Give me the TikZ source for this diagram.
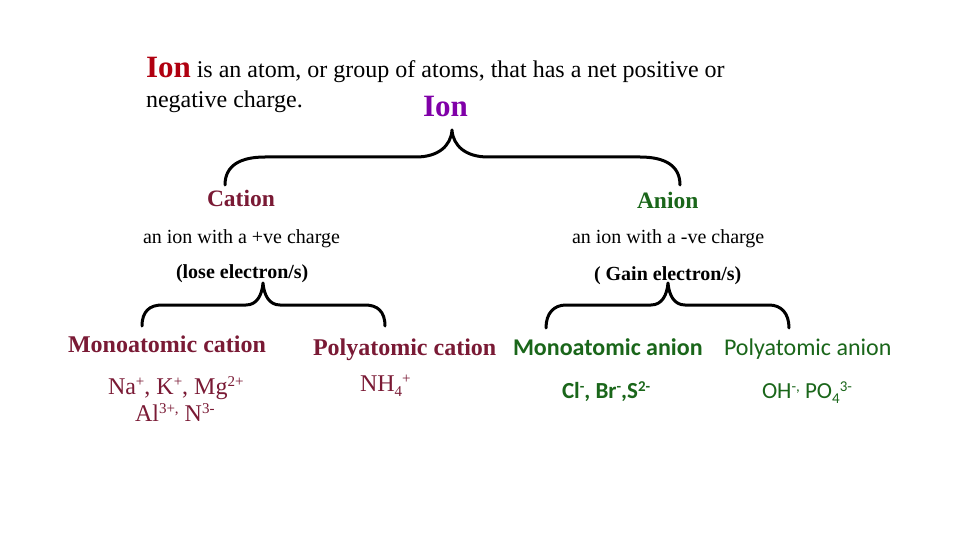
\documentclass[tikz,border=0pt]{standalone}
\usepackage{fontspec}
\setmainfont{Liberation Serif}
\newfontfamily\calfont{Carlito}
\definecolor{ionred}{RGB}{176,0,16}
\definecolor{ionpurple}{RGB}{128,0,168}
\definecolor{catred}{RGB}{122,26,53}
\definecolor{angreen}{RGB}{26,102,26}
\newcommand\myup[1]{\raisebox{0.3em}{\fontsize{15}{15}\selectfont #1}}
\newcommand\mydown[1]{\raisebox{-0.22em}{\fontsize{15}{15}\selectfont #1}}
\begin{document}
\begin{tikzpicture}[x=1pt,y=-1pt,
  txt/.style={anchor=base west,inner sep=0pt,outer sep=0pt},
  deftxt/.style={txt,font=\fontsize{24}{28}\selectfont},
  headcat/.style={txt,text=catred,font=\fontsize{23.5}{28}\selectfont\bfseries},
  headan/.style={txt,text=angreen,font=\fontsize{23.5}{28}\selectfont\bfseries},
  desc/.style={txt,font=\fontsize{20}{24}\selectfont},
  descb/.style={txt,font=\fontsize{20}{24}\selectfont\bfseries},
  subcat/.style={txt,text=catred,font=\fontsize{24}{28}\selectfont\bfseries},
  excat/.style={txt,text=catred,font=\fontsize{24}{28}\selectfont},
  suban/.style={txt,text=angreen,font=\fontsize{24}{28}\selectfont\calfont},
  brace/.style={line width=3pt,line cap=round,line join=round}]
\useasboundingbox (0,0) rectangle (960,540);
\fill[white] (0,0) rectangle (960,540);

% definition
\node[deftxt] (def1) at (146,78) {{\color{ionred}\bfseries\fontsize{31}{31}\selectfont Ion} is an atom, or group of atoms, that has a net positive or};
\node[deftxt] (def2) at (146,108) {negative charge.};
\node[txt,text=ionpurple,font=\fontsize{31}{31}\selectfont\bfseries] (ion) at (423,117) {Ion};

% level 1
\node[headcat] (cation) at (207,206) {Cation};
\node[headan] (anion) at (637,208) {Anion};
\node[desc] (cdesc) at (143,243) {an ion with a +ve charge};
\node[desc] (adesc) at (572,243) {an ion with a -ve charge};
\node[descb] (closs) at (176,278) {(lose electron/s)};
\node[descb] (again) at (594,280) {( Gain electron/s)};

% level 2
\node[subcat] (mc) at (68,352) {Monoatomic cation};
\node[subcat] (pc) at (313,355) {Polyatomic cation};
\node[suban,font=\fontsize{24}{28}\selectfont\calfont\bfseries] (ma) at (513,355) {Monoatomic anion};
\node[suban] (pa) at (724,355) {Polyatomic anion};

\node[excat] (mcex1) at (108,394) {Na\myup{+}, K\myup{+}, Mg\myup{2+}};
\node[excat] (mcex2) at (135,421) {Al\myup{3+,} N\myup{3-}};
\node[excat] (pcex) at (360,391) {NH\mydown{4}\myup{+}};
\node[suban,font=\fontsize{23}{26}\selectfont\calfont\bfseries] (maex) at (562,398) {Cl\myup{-}, Br\myup{-},S\myup{2-}};
\node[suban,font=\fontsize{23}{26}\selectfont\calfont] (paex) at (762,398) {OH\myup{-,} PO\mydown{4}\myup{3-}};

% brace coordinates
\coordinate (bigL) at (225,185);
\coordinate (bigLh) at (265,157);
\coordinate (bigPl) at (416,157);
\coordinate (bigP) at (452,130);
\coordinate (bigPr) at (488,157);
\coordinate (bigRh) at (640,157);
\coordinate (bigR) at (680,185);

\coordinate (cL) at (142,326);
\coordinate (cLh) at (162,305);
\coordinate (cPl) at (246,305);
\coordinate (cP) at (263,283);
\coordinate (cPr) at (280,305);
\coordinate (cRh) at (365,305);
\coordinate (cR) at (385,326);

\coordinate (aL) at (546,328);
\coordinate (aLh) at (566,305);
\coordinate (aPl) at (651,305);
\coordinate (aP) at (668,283);
\coordinate (aPr) at (685,305);
\coordinate (aRh) at (769,305);
\coordinate (aR) at (789,328);

\draw[brace] (bigL) .. controls +(0,-20) and +(-24,0) .. (bigLh) -- (bigPl)
  .. controls +(22,0) and +(-1,16) .. (bigP)
  .. controls +(1,16) and +(-22,0) .. (bigPr) -- (bigRh)
  .. controls +(24,0) and +(0,-20) .. (bigR);

\draw[brace] (cL) .. controls +(0,-15) and +(-12,0) .. (cLh) -- (cPl)
  .. controls +(11,0) and +(-1,12) .. (cP)
  .. controls +(1,12) and +(-11,0) .. (cPr) -- (cRh)
  .. controls +(12,0) and +(0,-15) .. (cR);

\draw[brace] (aL) .. controls +(0,-15) and +(-12,0) .. (aLh) -- (aPl)
  .. controls +(11,0) and +(-1,12) .. (aP)
  .. controls +(1,12) and +(-11,0) .. (aPr) -- (aRh)
  .. controls +(12,0) and +(0,-15) .. (aR);
\end{tikzpicture}
\end{document}
